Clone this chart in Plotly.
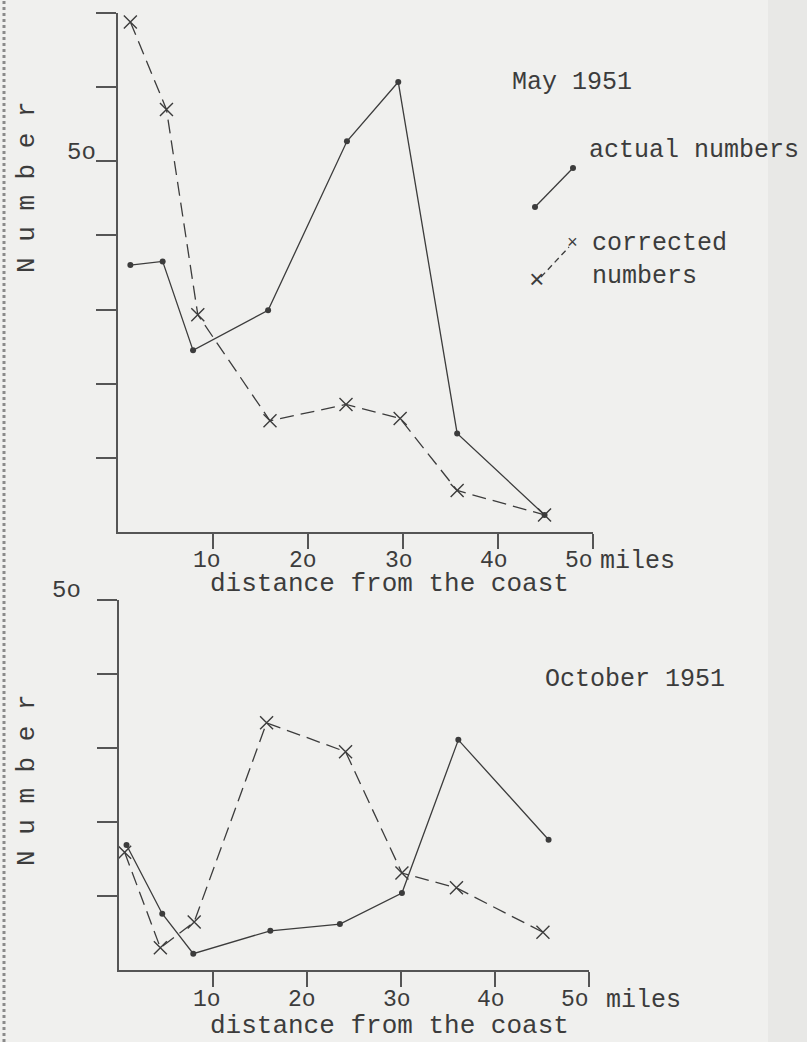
import plotly.graph_objects as go

# ---- data ----
may_actual_x = [1.3, 4.7, 7.9, 15.8, 24.1, 29.5, 35.7, 44.9]
may_actual_y = [36.0, 36.5, 24.5, 29.9, 52.7, 60.7, 13.3, 2.3]
may_corr_x = [1.3, 5.1, 8.4, 16.0, 24.0, 29.7, 35.7, 44.9]
may_corr_y = [68.8, 57.0, 29.3, 15.0, 17.2, 15.3, 5.6, 2.3]

oct_actual_x = [0.8, 4.6, 7.9, 16.1, 23.5, 30.1, 36.1, 45.7]
oct_actual_y = [16.9, 7.6, 2.2, 5.3, 6.2, 10.4, 31.1, 17.6]
oct_corr_x = [0.6, 4.4, 8.0, 15.7, 24.1, 30.1, 35.9, 45.1]
oct_corr_y = [15.9, 3.0, 6.5, 33.4, 29.5, 13.1, 11.1, 5.1]

x_tickvals = [10, 20, 30, 40, 50]
x_ticktext = ["1o", "2o", "3o", "4o", "5o"]
may_y_ticks = [10, 20, 30, 40, 50, 60, 70]
oct_y_ticks = [10, 20, 30, 40, 50]

W, H = 807, 1042
INK = "#3c3c3c"
AXC = "#555555"
BG = "#f0f0ee"
FONT = "Liberation Mono"


def px(x):
    return x / W


def py(y):
    return 1 - y / H


fig = go.Figure()

line_solid = dict(color=INK, width=1.3)
line_dash = dict(color=INK, width=1.3, dash="14px,7px")
m_dot = dict(symbol="circle", size=6, color=INK)
m_x = dict(symbol="x-thin-open", size=13, line=dict(color=INK, width=1.4), color=INK)

fig.add_trace(go.Scatter(x=may_actual_x, y=may_actual_y, mode="lines+markers",
                         line=line_solid, marker=m_dot, xaxis="x", yaxis="y",
                         name="actual numbers"))
fig.add_trace(go.Scatter(x=may_corr_x, y=may_corr_y, mode="lines+markers",
                         line=line_dash, marker=m_x, xaxis="x", yaxis="y",
                         name="corrected numbers"))
fig.add_trace(go.Scatter(x=oct_actual_x, y=oct_actual_y, mode="lines+markers",
                         line=line_solid, marker=m_dot, xaxis="x2", yaxis="y2",
                         name="actual numbers"))
fig.add_trace(go.Scatter(x=oct_corr_x, y=oct_corr_y, mode="lines+markers",
                         line=line_dash, marker=m_x, xaxis="x2", yaxis="y2",
                         name="corrected numbers"))

xcommon = dict(range=[0, 50], showgrid=False, zeroline=False, showline=True,
               linecolor=AXC, linewidth=2, ticks="outside", ticklen=15,
               tickwidth=1.5, tickcolor=AXC, tickvals=x_tickvals,
               showticklabels=False)
ycommon = dict(showgrid=False, zeroline=False, showline=True, linecolor=AXC,
               linewidth=2, ticks="outside", ticklen=20, tickwidth=1.5,
               tickcolor=AXC, showticklabels=False)

fig.update_layout(
    width=W, height=H,
    margin=dict(l=0, r=0, t=0, b=0),
    paper_bgcolor=BG, plot_bgcolor=BG,
    showlegend=False,
    xaxis=dict(domain=[px(118), px(593)], anchor="y", **xcommon),
    yaxis=dict(domain=[py(532), py(13)], anchor="x", range=[0, 70],
               tickvals=may_y_ticks, **ycommon),
    xaxis2=dict(domain=[px(119), px(589)], anchor="y2", **xcommon),
    yaxis2=dict(domain=[py(970), py(600)], anchor="x2", range=[0, 50],
                tickvals=oct_y_ticks, **ycommon),
)

annots = []


def txt(x, y, s, size=25, angle=0, xanchor="center"):
    annots.append(dict(x=px(x), y=py(y), xref="paper", yref="paper", text=s,
                       showarrow=False, xanchor=xanchor, yanchor="middle",
                       textangle=angle,
                       font=dict(family=FONT, size=size, color=INK)))


# x tick labels (typewriter "o" for zero), placed at the axis values
label_shift = [-6, -5, -4, -4, -14]
for xref, ypix in (("x", 561), ("x2", 1000)):
    for v, t, s in zip(x_tickvals, x_ticktext, label_shift):
        annots.append(dict(x=v, xref=xref, y=py(ypix), yref="paper", text=t,
                           showarrow=False, xanchor="center", yanchor="middle",
                           xshift=s,
                           font=dict(family=FONT, size=23, color=INK)))

txt(81, 153, "5o", 24)
txt(66, 590, "5o", 24)
txt(510, 83, "May 1951", 25, xanchor="left")
txt(587, 150, "actual numbers", 25, xanchor="left")
txt(590, 243, "corrected", 25, xanchor="left")
txt(590, 277, "numbers", 25, xanchor="left")
txt(543, 679, "October 1951", 25, xanchor="left")
txt(389, 584, "distance from the coast", 26)
txt(389, 1026, "distance from the coast", 26)
txt(598, 561, "miles", 25, xanchor="left")
txt(604, 1000, "miles", 25, xanchor="left")
txt(27, 187, "N u m b e r", 26, angle=-90)
txt(27, 780, "N u m b e r", 26, angle=-90)
# legend cross glyphs
txt(537, 281, "×", 26)
txt(572, 243, "×", 18)

fig.update_layout(annotations=annots)

shapes = [
    # scanned page edge effects
    dict(type="rect", xref="paper", yref="paper", x0=px(768), x1=1, y0=0, y1=1,
         fillcolor="#e8e8e6", line=dict(width=0), layer="below"),
    dict(type="line", xref="paper", yref="paper", x0=px(4), x1=px(4), y0=0, y1=1,
         line=dict(color="#8a8a8a", width=3, dash="dot")),
    # legend samples
    dict(type="line", xref="paper", yref="paper", x0=px(535), y0=py(207),
         x1=px(573), y1=py(168), line=dict(color=INK, width=1.3)),
    dict(type="circle", xref="paper", yref="paper", x0=px(532), x1=px(538),
         y0=py(210), y1=py(204), fillcolor=INK, line=dict(width=0)),
    dict(type="circle", xref="paper", yref="paper", x0=px(570), x1=px(576),
         y0=py(171), y1=py(165), fillcolor=INK, line=dict(width=0)),
    dict(type="line", xref="paper", yref="paper", x0=px(541), y0=py(277),
         x1=px(569), y1=py(247), line=dict(color=INK, width=1.3, dash="6px,4px")),
]
fig.update_layout(shapes=shapes)

fig.write_html("out.html",
               config={"displayModeBar": False},
               post_script="document.body.style.margin='0';"
                           "document.body.style.overflow='hidden';")
